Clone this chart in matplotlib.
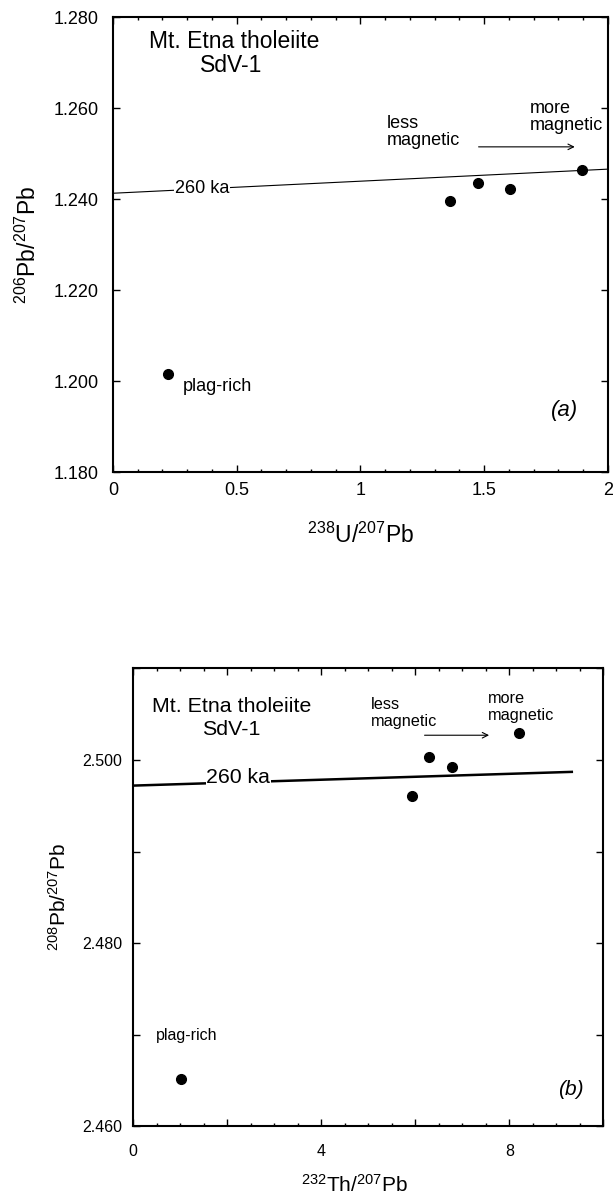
import matplotlib
matplotlib.use('Agg')
import matplotlib.pyplot as plt
from matplotlib.ticker import MultipleLocator, FuncFormatter

plt.rcParams['font.family'] = ['Liberation Sans', 'DejaVu Sans']
plt.rcParams['mathtext.default'] = 'regular'

# (a) U-Pb isochron data
u_pb_x = [0.223, 1.363, 1.474, 1.603, 1.897]
u_pb_y = [1.2016, 1.2397, 1.2435, 1.2423, 1.2465]
u_line_x = [0.0, 2.0]
u_line_y = [1.2413, 1.2466]

# (b) Th-Pb isochron data
th_pb_x = [1.02, 5.94, 6.30, 6.78, 8.21]
th_pb_y = [2.4652, 2.4961, 2.5003, 2.4992, 2.5029]
th_line_x = [0.0, 9.33]
th_line_y = [2.4972, 2.4987]

fig = plt.figure(figsize=(6.13, 11.98), dpi=100)
ax1 = fig.add_axes([0.1843, 0.606, 0.8075, 0.3796])
ax2 = fig.add_axes([0.217, 0.0598, 0.7672, 0.3823])


def style_axes(ax, fs, pad_y, pad_x):
    for sp in ax.spines.values():
        sp.set_linewidth(1.5)
    ax.tick_params(which='both', direction='in', top=True, right=True, width=1.0)
    ax.tick_params(which='major', length=5)
    ax.tick_params(which='minor', length=2.5)
    ax.tick_params(axis='y', labelsize=fs, pad=pad_y)
    ax.tick_params(axis='x', labelsize=fs, pad=pad_x)


# ---- panel (a) ----
ax1.plot(u_line_x, u_line_y, color='black', linewidth=0.8, zorder=1)
ax1.plot(u_pb_x, u_pb_y, 'o', color='black', markersize=7, zorder=3)
ax1.set_xlim(0, 2)
ax1.set_ylim(1.180, 1.280)
ax1.xaxis.set_major_locator(MultipleLocator(0.5))
ax1.xaxis.set_minor_locator(MultipleLocator(0.1))
ax1.yaxis.set_major_locator(MultipleLocator(0.02))
ax1.xaxis.set_major_formatter(FuncFormatter(lambda v, p: '%g' % v))
ax1.yaxis.set_major_formatter(FuncFormatter(lambda v, p: '%.3f' % v))
style_axes(ax1, 13, 10, 7)

ax1.text(0.488, 1.2746, 'Mt. Etna tholeiite', fontsize=16.5, ha='center', va='center')
ax1.text(0.479, 1.2695, 'SdV-1', fontsize=16.5, ha='center', va='center')
ax1.text(0.36, 1.2424, '260 ka', fontsize=13, ha='center', va='center',
         bbox=dict(facecolor='white', edgecolor='none', pad=0.5), zorder=2)
ax1.text(1.107, 1.2567, 'less', fontsize=13, ha='left', va='center')
ax1.text(1.107, 1.2529, 'magnetic', fontsize=13, ha='left', va='center')
ax1.text(1.684, 1.2600, 'more', fontsize=13, ha='left', va='center')
ax1.text(1.684, 1.2562, 'magnetic', fontsize=13, ha='left', va='center')
ax1.annotate('', xy=(1.877, 1.2515), xytext=(1.466, 1.2515),
             arrowprops=dict(arrowstyle='->', color='black', lw=0.8))
ax1.text(0.281, 1.1989, 'plag-rich', fontsize=13, ha='left', va='center')
ax1.text(1.826, 1.1935, '(a)', fontsize=16, style='italic', ha='center', va='center')

ax1.set_xlabel('$^{238}$U/$^{207}$Pb', fontsize=16.5, va='center')
ax1.xaxis.set_label_coords(0.5, -0.1385)
ax1.set_ylabel('$^{206}$Pb/$^{207}$Pb', fontsize=16.5, va='center')
ax1.yaxis.set_label_coords(-0.1717, 0.5)

# ---- panel (b) ----
ax2.plot(th_line_x, th_line_y, color='black', linewidth=1.8, zorder=1)
ax2.plot(th_pb_x, th_pb_y, 'o', color='black', markersize=7, zorder=3)
ax2.set_xlim(0, 10)
ax2.set_ylim(2.460, 2.510)
ax2.xaxis.set_major_locator(MultipleLocator(2))
ax2.xaxis.set_minor_locator(MultipleLocator(0.5))
ax2.yaxis.set_major_locator(MultipleLocator(0.01))
ax2.xaxis.set_major_formatter(FuncFormatter(
    lambda v, p: '%d' % round(v) if round(v) % 4 == 0 and v < 9.5 else ''))
ax2.yaxis.set_major_formatter(FuncFormatter(
    lambda v, p: '%.3f' % v if round(v * 1000) % 20 == 0 and v < 2.505 else ''))
style_axes(ax2, 11.5, 7.7, 13)

ax2.text(2.09, 2.5058, 'Mt. Etna tholeiite', fontsize=15.4, ha='center', va='center')
ax2.text(2.08, 2.5033, 'SdV-1', fontsize=15.4, ha='center', va='center')
ax2.text(2.24, 2.4981, '260 ka', fontsize=15.3, ha='center', va='center',
         bbox=dict(facecolor='white', edgecolor='none', pad=0.5), zorder=2)
ax2.text(5.06, 2.5061, 'less', fontsize=11.7, ha='left', va='center')
ax2.text(5.06, 2.5042, 'magnetic', fontsize=11.7, ha='left', va='center')
ax2.text(7.55, 2.5067, 'more', fontsize=11.7, ha='left', va='center')
ax2.text(7.55, 2.5049, 'magnetic', fontsize=11.7, ha='left', va='center')
ax2.annotate('', xy=(7.63, 2.5027), xytext=(6.14, 2.5027),
             arrowprops=dict(arrowstyle='->', color='black', lw=0.8))
ax2.text(0.49, 2.4699, 'plag-rich', fontsize=11.5, ha='left', va='center')
ax2.text(9.30, 2.4640, '(b)', fontsize=15, style='italic', ha='center', va='center')

ax2.set_xlabel('$^{232}$Th/$^{207}$Pb', fontsize=15, va='center')
ax2.xaxis.set_label_coords(0.472, -0.128)
ax2.set_ylabel('$^{208}$Pb/$^{207}$Pb', fontsize=15, va='center')
ax2.yaxis.set_label_coords(-0.158, 0.5)

fig.savefig('out.png', dpi=100)
